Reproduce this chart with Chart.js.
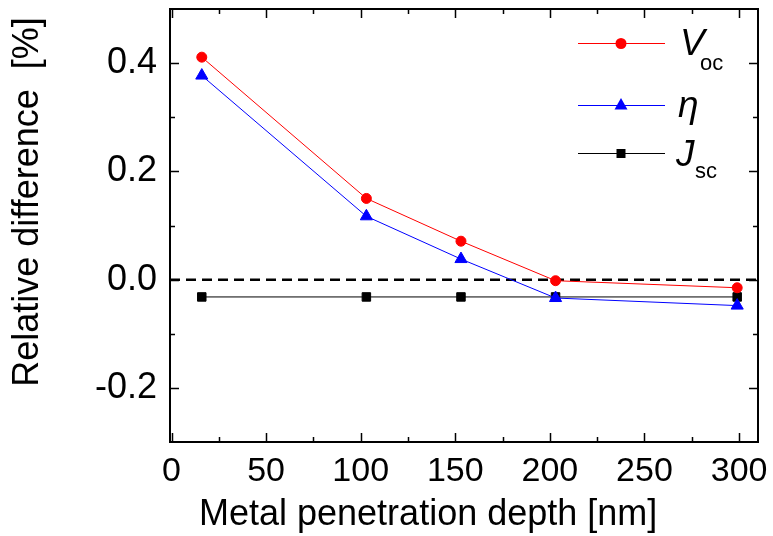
<!DOCTYPE html>
<html>
<head>
<meta charset="utf-8">
<script src="https://cdn.jsdelivr.net/npm/chart.js@4.4.1/dist/chart.umd.min.js"></script>
<style>
  html, body { margin: 0; padding: 0; background: #fff; }
  #wrap { width: 773px; height: 536px; }
</style>
</head>
<body>
<div id="wrap"><canvas id="depthChart" width="773" height="536"></canvas></div>
<script>
// penetration depth in nm
const depths = [16, 103, 153, 203, 299];
// relative differences in %
const vocValues = [0.411, 0.150, 0.071, -0.002, -0.015];
const etaValues = [0.377, 0.117, 0.038, -0.034, -0.048];
const jscValues = [-0.032, -0.032, -0.032, -0.032, -0.032];

const xMin = -0.8, xMax = 310;
const yMin = -0.3, yMax = 0.5;
const xTicks = [0, 50, 100, 150, 200, 250, 300];
const xMinorTicks = [25, 75, 125, 175, 225, 275];
const yTicks = [-0.2, 0.0, 0.2, 0.4];
const yMinorTicks = [-0.1, 0.1, 0.3];

const FONT = "'Liberation Sans', Arial, sans-serif";

function pts(vals) {
  return depths.map((d, i) => ({ x: d, y: vals[i] }));
}

// frame, inward ticks, axis titles and the legend
const decorations = {
  id: 'decorations',
  afterDraw(chart) {
    const c = chart.ctx;
    const a = chart.chartArea;
    const xs = chart.scales.x, ys = chart.scales.y;
    c.save();
    c.strokeStyle = '#000';
    c.lineWidth = 2;
    c.strokeRect(a.left, a.top, a.right - a.left, a.bottom - a.top);

    c.beginPath();
    const tick = (vals, len) => {
      vals.forEach(v => {
        const px = Math.round(xs.getPixelForValue(v)) + 0.5;
        c.moveTo(px, a.bottom); c.lineTo(px, a.bottom - len);
        c.moveTo(px, a.top); c.lineTo(px, a.top + len);
      });
    };
    const ytick = (vals, len) => {
      vals.forEach(v => {
        const py = Math.round(ys.getPixelForValue(v)) + 0.5;
        c.moveTo(a.left, py); c.lineTo(a.left + len, py);
        c.moveTo(a.right, py); c.lineTo(a.right - len, py);
      });
    };
    tick(xTicks, 9); tick(xMinorTicks, 5);
    ytick(yTicks, 9); ytick(yMinorTicks, 5);
    c.lineWidth = 1.5;
    c.stroke();

    // axis titles
    c.fillStyle = '#000';
    c.font = '36px ' + FONT;
    c.textAlign = 'left';
    c.textBaseline = 'alphabetic';
    c.fillText('Metal penetration depth [nm]', 199, 525);
    c.save();
    c.translate(38, 202);
    c.rotate(-Math.PI / 2);
    c.textAlign = 'center';
    c.fillText('Relative difference  [%]', 0, 0);
    c.restore();

    // legend
    const rows = [
      { y: 43, color: '#ff0000', shape: 'circle', main: 'V', sub: 'oc', mx: 680, my: 55, sx: 700, sy: 70 },
      { y: 105, color: '#0000ff', shape: 'triangle', main: '\u03B7', sub: '', mx: 678, my: 117, sx: 0, sy: 0 },
      { y: 153, color: '#000000', shape: 'rect', main: 'J', sub: 'sc', mx: 676, my: 166, sx: 695, sy: 178 }
    ];
    rows.forEach(r => {
      c.strokeStyle = r.color;
      c.fillStyle = r.color;
      c.lineWidth = 1;
      c.beginPath();
      c.moveTo(578, r.y + 0.5); c.lineTo(665, r.y + 0.5);
      c.stroke();
      const mx = 621, my = r.y + 0.5;
      c.beginPath();
      if (r.shape === 'circle') {
        c.arc(mx, my, 5.5, 0, Math.PI * 2);
      } else if (r.shape === 'triangle') {
        c.moveTo(mx, my - 7.5); c.lineTo(mx + 6.5, my + 4); c.lineTo(mx - 6.5, my + 4); c.closePath();
      } else {
        c.rect(mx - 4.5, my - 4.5, 9, 9);
      }
      c.fill();
      c.fillStyle = '#000';
      c.font = 'italic 37px ' + FONT;
      c.textAlign = 'left';
      c.fillText(r.main, r.mx, r.my);
      if (r.sub) {
        c.font = '22px ' + FONT;
        c.fillText(r.sub, r.sx, r.sy);
      }
    });
    c.restore();
  }
};

new Chart(document.getElementById('depthChart'), {
  type: 'line',
  data: {
    datasets: [
      {
        label: 'Voc', data: pts(vocValues),
        borderColor: '#ff0000', backgroundColor: '#ff0000', borderWidth: 1,
        pointStyle: 'circle', pointRadius: 5, pointBorderWidth: 1, tension: 0
      },
      {
        label: 'eta', data: pts(etaValues),
        borderColor: '#0000ff', backgroundColor: '#0000ff', borderWidth: 1,
        pointStyle: 'triangle', pointRadius: 7, pointBorderWidth: 1, tension: 0
      },
      {
        label: 'Jsc', data: pts(jscValues),
        borderColor: '#000000', backgroundColor: '#000000', borderWidth: 1,
        pointStyle: 'rect', pointRadius: 6, pointBorderWidth: 1, tension: 0
      },
      {
        label: 'zero', data: [{ x: xMin, y: 0 }, { x: xMax, y: 0 }],
        borderColor: '#000000', borderWidth: 2.5, borderDash: [10, 6],
        pointRadius: 0, tension: 0
      }
    ]
  },
  options: {
    responsive: false,
    animation: false,
    layout: { padding: { left: 0, top: 9, right: 15, bottom: 0 } },
    plugins: { legend: { display: false }, tooltip: { enabled: false } },
    scales: {
      x: {
        type: 'linear', min: xMin, max: xMax,
        grid: { display: false, drawTicks: false },
        border: { display: false },
        afterBuildTicks: axis => { axis.ticks = xTicks.map(v => ({ value: v })); },
        afterFit: axis => {
          axis.height = 94;
          axis.paddingLeft = 0; axis.paddingRight = 0;
          axis.paddingTop = 0; axis.paddingBottom = 0;
        },
        ticks: { color: '#000', font: { family: FONT, size: 34 }, padding: 9, maxRotation: 0 }
      },
      y: {
        type: 'linear', min: yMin, max: yMax,
        grid: { display: false, drawTicks: false },
        border: { display: false },
        afterBuildTicks: axis => { axis.ticks = yTicks.map(v => ({ value: v })); },
        afterFit: axis => {
          axis.width = 170;
          axis.paddingLeft = 0; axis.paddingRight = 0;
          axis.paddingTop = 0; axis.paddingBottom = 0;
        },
        ticks: {
          color: '#000', font: { family: FONT, size: 36 }, padding: 13,
          callback: v => v.toFixed(1)
        }
      }
    }
  },
  plugins: [decorations]
});
</script>
</body>
</html>
